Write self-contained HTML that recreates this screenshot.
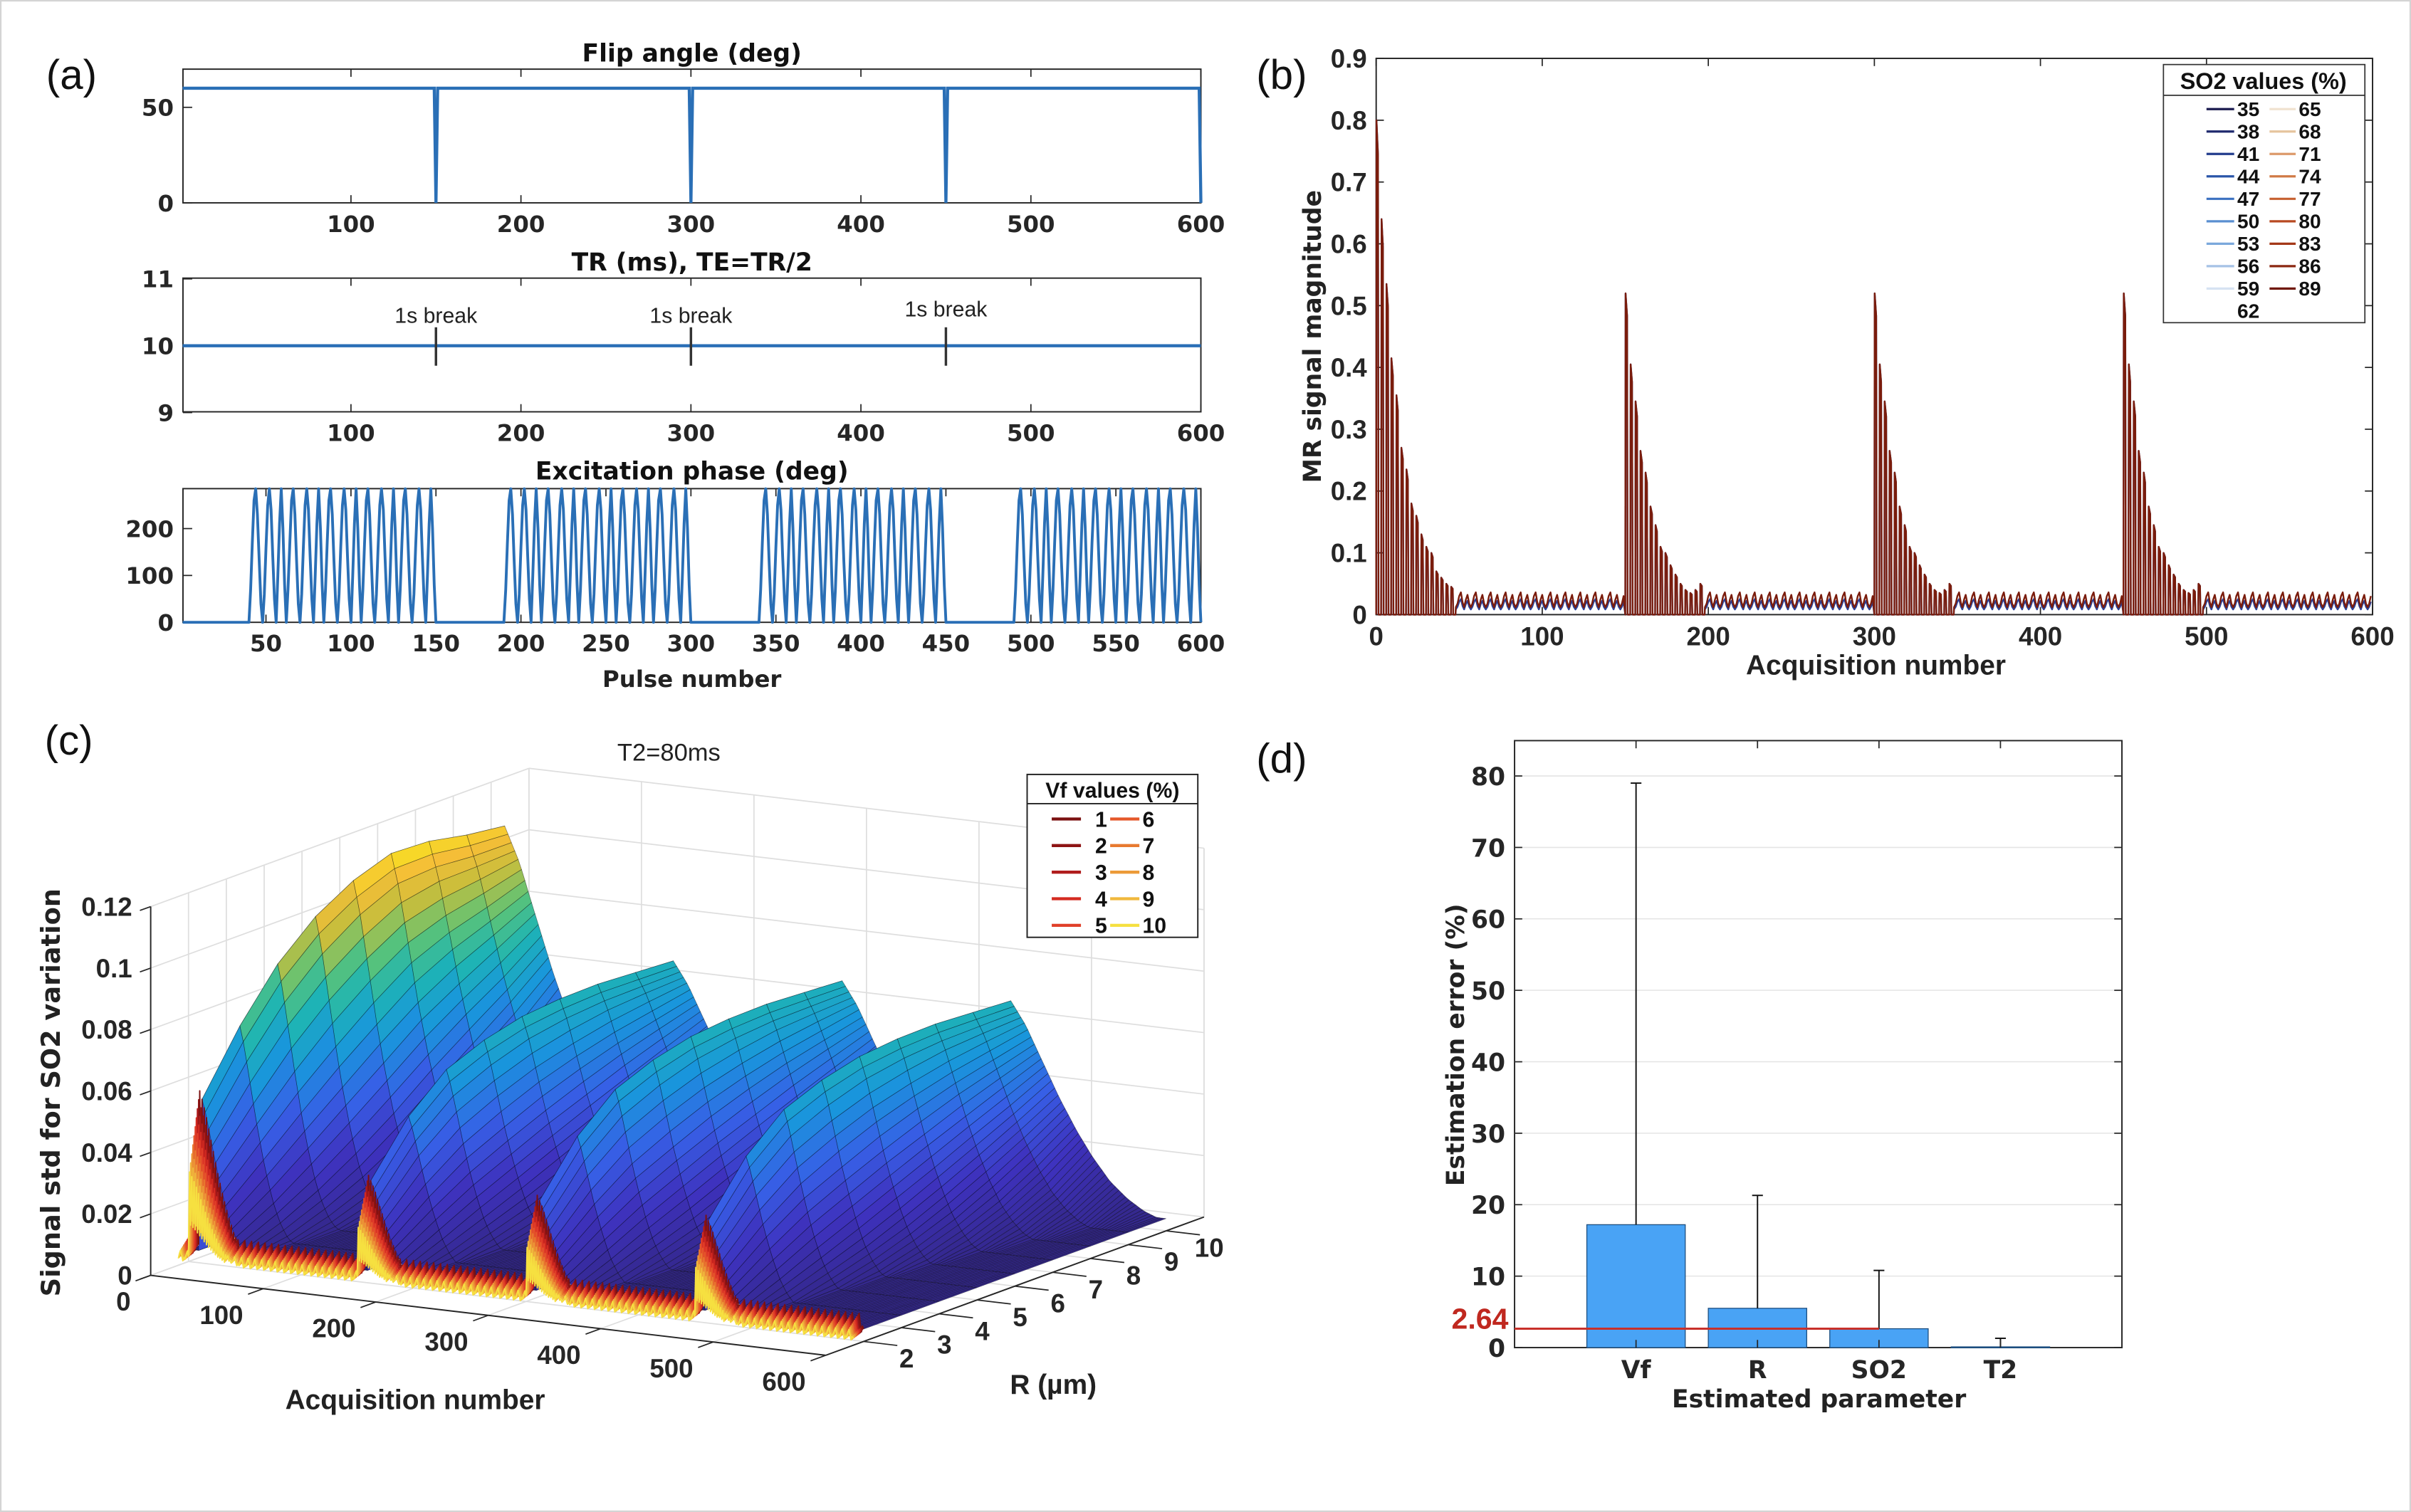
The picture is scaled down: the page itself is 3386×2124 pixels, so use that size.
<!DOCTYPE html>
<html><head><meta charset="utf-8"><title>MR fingerprinting figure</title>
<style>html,body{margin:0;padding:0;background:#fff}svg{display:block}</style></head>
<body>
<svg id="chart" xmlns="http://www.w3.org/2000/svg" width="3386" height="2124" viewBox="0 0 1568 984" preserveAspectRatio="none" font-family="DejaVu Sans, sans-serif">
<rect x="0.5" y="0.5" width="1567" height="983" fill="#fff" stroke="#d4d4d4"/>
<text x="30" y="58" font-family="Liberation Sans, sans-serif" font-size="27" fill="#111">(a)</text>
<text x="817" y="58" font-family="Liberation Sans, sans-serif" font-size="27" fill="#111">(b)</text>
<text x="29" y="491" font-family="Liberation Sans, sans-serif" font-size="27" fill="#111">(c)</text>
<text x="817" y="503" font-family="Liberation Sans, sans-serif" font-size="27" fill="#111">(d)</text>
</svg>
<script>
// ---------- data: panel (a) ----------
const flipAngleValue = 60;
const flipDipPulses = [150, 300, 450, 600];
const trValue = 10;
const breakPulses = [150, 300, 450];
const breakLabels = ['1s break', '1s break', '1s break'];
const phaseSegStarts = [40, 190, 340, 490];
const phaseSegLen = 110;
const phasePattern = [0, 70, 170, 260, 285, 230, 130, 40, 0, 60, 160, 250, 285, 240, 140, 50, 0, 100, 210, 285, 200, 80];
const pulseTicksTop = [100, 200, 300, 400, 500, 600];
const pulseTicksPhase = [50, 100, 150, 200, 250, 300, 350, 400, 450, 500, 550, 600];
const flipYTicks = [0, 50];
const trYTicks = [9, 10, 11];
const phaseYTicks = [0, 100, 200];
// ---------- data: panel (b) ----------
const bSegStarts = [0, 150, 300, 450];
const bPeaksFirst = [0.80, 0.64, 0.535, 0.415, 0.355, 0.27, 0.235, 0.18, 0.16, 0.13, 0.11, 0.10, 0.07, 0.06, 0.05, 0.045];
const bPeaksLater = [0.52, 0.405, 0.345, 0.265, 0.23, 0.175, 0.145, 0.11, 0.10, 0.08, 0.065, 0.05, 0.04, 0.035, 0.04, 0.05];
const bRipple = [0.012, 0.018, 0.03, 0.036, 0.02, 0.012, 0.024, 0.032, 0.018];
const bXTicks = [0, 100, 200, 300, 400, 500, 600];
const bYTicks = [0, 0.1, 0.2, 0.3, 0.4, 0.5, 0.6, 0.7, 0.8, 0.9];
const so2Col1 = ['35', '38', '41', '44', '47', '50', '53', '56', '59', '62'];
const so2Col2 = ['65', '68', '71', '74', '77', '80', '83', '86', '89'];
const so2Col1Colors = ['#1c1c50', '#1f2a6e', '#223c8c', '#2a55a8', '#3a70c0', '#5a8fd0', '#7ba8dc', '#a6c2e6', '#d6e2f2', '#ffffff'];
const so2Col2Colors = ['#f0e2d0', '#e6c49e', '#dc9a6a', '#d07a46', '#c66030', '#b84a22', '#a43818', '#8c2812', '#70180c'];
// ---------- data: panel (c) ----------
const cSegStarts = [10, 160, 310, 460];
const cRidge1Peak = [0.056, 0.076, 0.092, 0.103, 0.11, 0.114, 0.113, 0.11, 0.108];
const cRidgePeak = [0.035, 0.052, 0.063, 0.068, 0.071, 0.072, 0.072, 0.071, 0.07];
const cDecayProfile = [1, 0.88, 0.72, 0.56, 0.42, 0.3, 0.2, 0.13, 0.08, 0.05, 0.04];
const cBaseline = 0.004;
const cRipple = [0.004, 0.007, 0.009, 0.006, 0.003, 0.005];
const cAcqTicks = [0, 100, 200, 300, 400, 500, 600];
const cRTicks = [2, 3, 4, 5, 6, 7, 8, 9, 10];
const cZTicks = [0, 0.02, 0.04, 0.06, 0.08, 0.1, 0.12];
const cZTickLabels = ['0', '0.02', '0.04', '0.06', '0.08', '0.1', '0.12'];
const vfLabels = ['1', '2', '3', '4', '5', '6', '7', '8', '9', '10'];
const vfColors = ['#7a1010', '#8e1414', '#b01c1c', '#d42a20', '#e0402a', '#e4582a', '#e87a30', '#ec9a38', '#f0b83c', '#f6e040'];
// ---------- data: panel (d) ----------
const dCategories = ['Vf', 'R', 'SO2', 'T2'];
const dErrMean = [17.2, 5.5, 2.64, 0.1];
const dErrUpper = [79, 21.3, 10.8, 1.3];
const dRefValue = 2.64;
const dYTicks = [0, 10, 20, 30, 40, 50, 60, 70, 80];

const NS = 'http://www.w3.org/2000/svg';
const root = document.getElementById('chart');
function mk(tag, attrs, parent) {
  const e = document.createElementNS(NS, tag);
  for (const k in attrs) e.setAttribute(k, attrs[k]);
  (parent || root).appendChild(e);
  return e;
}
function grp(name) {
  const g = mk('g', {});
  
  
  return g;
}
function lab(g, x, y, s, attrs, name) {
  const t = mk('text', Object.assign({x: x, y: y}, attrs || {}), g);
  t.textContent = s;
  
  
  return t;
}
function ln(g, x1, y1, x2, y2, stroke, w, name) {
  const l = mk('line', {x1: x1, y1: y1, x2: x2, y2: y2, stroke: stroke, 'stroke-width': w}, g);
  
  
  return l;
}
function pth(g, d, attrs, name) {
  const p = mk('path', Object.assign({d: d}, attrs), g);
  
  
  return p;
}
const TICKF = {'font-weight': 'bold', 'font-size': 15, fill: '#262626'};

// ================= Panel (a) =================
const xa = v => 117.7 + v * 1.1055;
function axesA(g, y0, y1, yfn, yticks, xticks, name) {
  const box = mk('rect', {x: 119, y: y0, width: 662, height: y1 - y0, fill: '#fff', stroke: '#262626', 'stroke-width': 0.9}, g);
  
  
  xticks.forEach(v => {
    ln(g, xa(v), y1, xa(v), y1 - 5, '#262626', 0.8, name + '-x-tick');
    ln(g, xa(v), y0, xa(v), y0 + 5, '#262626', 0.8, name + '-x-tick');
    lab(g, xa(v), y1 + 19, String(v), Object.assign({'text-anchor': 'middle'}, TICKF), name + '-x-tick-label');
  });
  yticks.forEach(v => {
    ln(g, 119, yfn(v), 125, yfn(v), '#262626', 0.8, name + '-y-tick');
    lab(g, 113, yfn(v) + 5.5, String(v), Object.assign({'text-anchor': 'end'}, TICKF), name + '-y-tick-label');
  });
}
const gA1 = grp('flip-angle-plot');
const yf = v => 132 - v * 1.243;
axesA(gA1, 45, 132, yf, flipYTicks, pulseTicksTop, 'flip-angle');
lab(gA1, 450, 40, 'Flip angle (deg)', {'text-anchor': 'middle', 'font-weight': 'bold', 'font-size': 16, fill: '#111'}, 'flip-angle-title');
{
  let d = 'M' + xa(1) + ',' + yf(flipAngleValue);
  flipDipPulses.forEach(p => {
    d += ' L' + xa(p - 1) + ',' + yf(flipAngleValue) + ' L' + xa(p) + ',' + yf(0);
    if (p < 600) d += ' L' + xa(p + 1) + ',' + yf(flipAngleValue);
  });
  pth(gA1, d, {fill: 'none', stroke: '#2a6fb6', 'stroke-width': 2}, 'flip-angle-line');
}
const gA2 = grp('tr-plot');
const ytr = v => 225 - (v - 10) * 43.5;
axesA(gA2, 181, 268, ytr, trYTicks, pulseTicksTop, 'tr');
lab(gA2, 450, 176, 'TR (ms), TE=TR/2', {'text-anchor': 'middle', 'font-weight': 'bold', 'font-size': 16, fill: '#111'}, 'tr-title');
pth(gA2, 'M' + xa(1) + ',' + ytr(trValue) + ' L' + xa(600) + ',' + ytr(trValue), {fill: 'none', stroke: '#2a6fb6', 'stroke-width': 2}, 'tr-line');
breakPulses.forEach((p, i) => {
  ln(gA2, xa(p), 213, xa(p), 238, '#333', 1.6, 'break-marker');
  lab(gA2, xa(p), i === 2 ? 206 : 210, breakLabels[i], {'text-anchor': 'middle', 'font-family': 'Liberation Sans, sans-serif', 'font-size': 14, fill: '#222'}, 'break-label');
});
const gA3 = grp('excitation-phase-plot');
const yph = v => 405 - v * 0.305;
axesA(gA3, 318, 405, yph, phaseYTicks, pulseTicksPhase, 'phase');
lab(gA3, 450, 312, 'Excitation phase (deg)', {'text-anchor': 'middle', 'font-weight': 'bold', 'font-size': 16, fill: '#111'}, 'phase-title');
{
  let d = '';
  for (let p = 1; p <= 600; p++) {
    let v = 0;
    phaseSegStarts.forEach(s => { if (p >= s && p < s + phaseSegLen) v = phasePattern[(p - s) % phasePattern.length]; });
    d += (p === 1 ? 'M' : ' L') + xa(p).toFixed(1) + ',' + yph(v).toFixed(1);
  }
  pth(gA3, d, {fill: 'none', stroke: '#2a6fb6', 'stroke-width': 1.8, 'stroke-linejoin': 'round'}, 'phase-line');
}
lab(gA3, 450, 447, 'Pulse number', {'text-anchor': 'middle', 'font-weight': 'bold', 'font-size': 15, fill: '#222'}, 'pulse-number-axis-title');

// ================= Panel (b) =================
const gB = grp('signal-magnitude-plot');
const xb = v => 895 + v * 1.08;
const yb = v => 400 - v * 402.2;
{
  const box = mk('rect', {x: 895, y: 38, width: 648, height: 362, fill: '#fff', stroke: '#262626', 'stroke-width': 0.9}, gB);
  
  
  const F = {'font-family': 'Liberation Sans, sans-serif', 'font-weight': 'bold', 'font-size': 17, fill: '#262626'};
  bXTicks.forEach(v => {
    ln(gB, xb(v), 400, xb(v), 395, '#262626', 0.8, 'signal-x-tick');
    ln(gB, xb(v), 38, xb(v), 43, '#262626', 0.8, 'signal-x-tick');
    lab(gB, xb(v), 420, String(v), Object.assign({'text-anchor': 'middle'}, F), 'signal-x-tick-label');
  });
  bYTicks.forEach(v => {
    ln(gB, 895, yb(v), 900, yb(v), '#262626', 0.8, 'signal-y-tick');
    ln(gB, 1543, yb(v), 1538, yb(v), '#262626', 0.8, 'signal-y-tick');
    lab(gB, 889, yb(v) + 6, String(v), Object.assign({'text-anchor': 'end'}, F), 'signal-y-tick-label');
  });
  lab(gB, 1220, 439, 'Acquisition number', {'text-anchor': 'middle', 'font-family': 'Liberation Sans, sans-serif', 'font-weight': 'bold', 'font-size': 18, fill: '#222'}, 'acquisition-axis-title');
  lab(gB, 0, 0, 'MR signal magnitude', {'text-anchor': 'middle', 'font-weight': 'bold', 'font-size': 16, fill: '#222', transform: 'translate(859,219) rotate(-90)'}, 'signal-axis-title');
}
function seriesB(scale) {
  const pts = [];
  bSegStarts.forEach((s, si) => {
    const pk = si === 0 ? bPeaksFirst : bPeaksLater;
    pk.forEach((p, k) => {
      const a0 = s + 3 * k;
      pts.push([a0, 0], [a0 + 0.2, p], [a0 + 1.1, p * 0.93], [a0 + 1.4, 0], [a0 + 2.8, 0]);
    });
    for (let j = 0; s + 48 + j < Math.min(s + 150, 601); j++) pts.push([s + 48 + j, bRipple[j % bRipple.length] * scale]);
  });
  return pts;
}
[[0.7, '#2b3f94', 'signal-series-low-so2'], [1, '#7a1c0c', 'signal-series-high-so2']].forEach(cfg => {
  const pts = seriesB(cfg[0]);
  const d = pts.map((p, i) => (i ? 'L' : 'M') + xb(p[0]).toFixed(1) + ',' + yb(p[1]).toFixed(1)).join(' ');
  pth(gB, d, {fill: 'none', stroke: cfg[1], 'stroke-width': 1.1, 'stroke-linejoin': 'round'}, cfg[2]);
});
{
  const gL = grp('so2-legend');
  const r = mk('rect', {x: 1407, y: 42, width: 131, height: 168, fill: '#fff', stroke: '#333', 'stroke-width': 0.8}, gL);
  
  
  ln(gL, 1407, 62, 1538, 62, '#333', 0.8, 'so2-legend-separator');
  lab(gL, 1472, 58, 'SO2 values (%)', {'text-anchor': 'middle', 'font-family': 'Liberation Sans, sans-serif', 'font-weight': 'bold', 'font-size': 15, fill: '#111'}, 'so2-legend-title');
  const F = {'font-family': 'Liberation Sans, sans-serif', 'font-weight': 'bold', 'font-size': 13, fill: '#111'};
  so2Col1.forEach((s, i) => {
    const y = 71 + i * 14.6;
    if (i < so2Col1.length - 1) ln(gL, 1435, y, 1453, y, so2Col1Colors[i], 1.5, 'so2-legend-line');
    lab(gL, 1455, y + 4.5, s, F, 'so2-legend-label');
  });
  so2Col2.forEach((s, i) => {
    const y = 71 + i * 14.6;
    ln(gL, 1476, y, 1493, y, so2Col2Colors[i], 1.5, 'so2-legend-line');
    lab(gL, 1495, y + 4.5, s, F, 'so2-legend-label');
  });
}

// ================= Panel (c) =================
const gC = grp('signal-std-3d-plot');
const P = (a, r, z) => [98 + 0.7317 * a + 24.6 * (r - 1), 830 + 0.0867 * a - 9.0 * (r - 1) - 2000 * z];
const pt = q => q[0].toFixed(1) + ',' + q[1].toFixed(1);
const parulaStops = [[0, 50, 38, 130], [0.2, 62, 50, 190], [0.35, 55, 95, 230], [0.5, 25, 150, 220], [0.62, 30, 180, 180], [0.72, 90, 195, 120], [0.82, 200, 190, 60], [0.9, 245, 190, 55], [1, 249, 250, 20]];
function parula(t) {
  t = Math.max(0, Math.min(1, t));
  for (let i = 1; i < parulaStops.length; i++) {
    if (t <= parulaStops[i][0]) {
      const a = parulaStops[i - 1], b = parulaStops[i], f = (t - a[0]) / (b[0] - a[0]);
      return 'rgb(' + [1, 2, 3].map(k => Math.round(a[k] + (b[k] - a[k]) * f)).join(',') + ')';
    }
  }
  return 'rgb(249,250,20)';
}
function peakAt(ridge, r) {
  const arr = ridge === 0 ? cRidge1Peak : cRidgePeak;
  const f = r - 2;
  const i = Math.max(0, Math.min(Math.floor(f), arr.length - 2));
  const t = f - i;
  return arr[i] * (1 - t) + arr[i + 1] * t;
}
function decay(d) {
  const f = d / 15, n = cDecayProfile.length - 1;
  if (f >= n) return cDecayProfile[n];
  const i = Math.floor(f), t = f - i;
  return cDecayProfile[i] * (1 - t) + cDecayProfile[i + 1] * t;
}
function ridgeOf(a) {
  let ridge = -1;
  for (let k = 0; k < cSegStarts.length; k++) if (a >= cSegStarts[k]) ridge = k;
  return ridge;
}
function hAt(a, r) {
  const ridge = ridgeOf(a);
  if (ridge < 0) return cBaseline;
  const d = (a - cSegStarts[ridge]) * (1 + (10 - r) * 0.25);
  return Math.max(cBaseline, peakAt(ridge, r) * decay(d));
}
// walls & floor grid
{
  const gW = grp('3d-axes-grid');
  const wallFill = 'M' + pt(P(0, 1, 0)) + ' L' + pt(P(0, 11, 0)) + ' L' + pt(P(0, 11, 0.12)) + ' L' + pt(P(0, 1, 0.12)) + 'Z M' + pt(P(0, 11, 0)) + ' L' + pt(P(600, 11, 0)) + ' L' + pt(P(600, 11, 0.12)) + ' L' + pt(P(0, 11, 0.12)) + 'Z';
  pth(gW, wallFill, {fill: '#fff', stroke: 'none'}, '3d-walls');
  const G = '#dedede';
  cZTicks.forEach(z => {
    ln(gW, ...P(0, 1, z), ...P(0, 11, z), G, 0.8, 'left-wall-gridline');
    ln(gW, ...P(0, 11, z), ...P(600, 11, z), G, 0.8, 'back-wall-gridline');
  });
  cAcqTicks.forEach(a => {
    ln(gW, ...P(a, 11, 0), ...P(a, 11, 0.12), G, 0.8, 'back-wall-gridline');
    ln(gW, ...P(a, 1, 0), ...P(a, 11, 0), G, 0.8, 'floor-gridline');
  });
  cRTicks.forEach(r => {
    ln(gW, ...P(0, r, 0), ...P(0, r, 0.12), G, 0.8, 'left-wall-gridline');
    ln(gW, ...P(0, r, 0), ...P(600, r, 0), G, 0.8, 'floor-gridline');
  });
  ln(gW, ...P(0, 11, 0), ...P(0, 11, 0.12), G, 0.8, 'back-corner-line');
  ln(gW, ...P(600, 11, 0), ...P(600, 11, 0.12), G, 0.8, 'back-corner-line');
}
// surface
{
  const gS = grp('std-surface');
  const quads = [];
  const aStep = 3, rStep = 1;
  for (let r = 2; r < 10 - 1e-9; r += rStep) {
    for (let a = 0; a < 600; a += aStep) {
      const h00 = hAt(a, r), h10 = hAt(a + aStep, r), h11 = hAt(a + aStep, r + rStep), h01 = hAt(a, r + rStep);
      const depth = 0.0867 * (a + aStep / 2) - 9 * (r + rStep / 2 - 1);
      quads.push({depth: depth, d: 'M' + pt(P(a, r, h00)) + 'L' + pt(P(a + aStep, r, h10)) + 'L' + pt(P(a + aStep, r + rStep, h11)) + 'L' + pt(P(a, r + rStep, h01)) + 'Z', c: parula((h00 + h10 + h11 + h01) / 4 / 0.115)});
    }
  }
  quads.sort((p, q) => p.depth - q.depth);
  quads.forEach(q => {
    const e = mk('path', {d: q.d, fill: q.c, stroke: 'rgba(0,0,0,0.42)', 'stroke-width': 0.35}, gS);
    
    
  });
}
// Vf lines at front edge
{
  const gV = grp('vf-lines');
  vfColors.forEach((col, i) => {
    const sc = 1 - i * 0.05;
    let d = '';
    for (let a = 0; a <= 600; a++) {
      const ridge = ridgeOf(a);
      let v = cRipple[a % cRipple.length] * sc;
      if (ridge >= 0) {
        const dd = a - cSegStarts[ridge];
        if (dd < 45) v = Math.max(v, peakAt(ridge, 2) * decay(dd * 3) * (dd % 2 === 0 ? 1 : 0.45) * sc);
      }
      d += (a ? 'L' : 'M') + pt(P(a, 2 - i * 0.03, v));
    }
    pth(gV, d, {fill: 'none', stroke: col, 'stroke-width': 0.9, 'stroke-linejoin': 'round'}, 'vf-line-' + vfLabels[i]);
  });
}
// axes, ticks
{
  const gX = grp('3d-axes');
  ln(gX, ...P(0, 1, 0), ...P(0, 1, 0.12), '#262626', 0.9, 'z-axis-line');
  ln(gX, ...P(0, 1, 0), ...P(600, 1, 0), '#262626', 0.9, 'acquisition-axis-line');
  ln(gX, ...P(600, 1, 0), ...P(600, 11, 0), '#262626', 0.9, 'r-axis-line');
  const F = {'font-family': 'Liberation Sans, sans-serif', 'font-weight': 'bold', 'font-size': 17, fill: '#262626'};
  cZTicks.forEach((z, i) => {
    const q = P(0, 1, z);
    ln(gX, q[0], q[1], q[0] - 7, q[1] + 2.5, '#262626', 0.8, 'z-tick');
    lab(gX, q[0] - 12, q[1] + 6, cZTickLabels[i], Object.assign({'text-anchor': 'end'}, F), 'z-tick-label');
  });
  cAcqTicks.forEach(a => {
    const q = P(a, 1, 0), q2 = P(a, 0.6, 0);
    ln(gX, q[0], q[1], q2[0], q2[1], '#262626', 0.8, 'acquisition-tick');
    lab(gX, q[0] - 13, q[1] + 23, String(a), Object.assign({'text-anchor': 'end'}, F), 'acquisition-tick-label');
  });
  cRTicks.forEach(r => {
    const q = P(600, r, 0), q2 = P(630, r, 0);
    ln(gX, q[0], q[1], q2[0], q2[1], '#262626', 0.8, 'r-tick');
    lab(gX, q[0] + 28, q[1] + 17, String(r), Object.assign({'text-anchor': 'middle'}, F), 'r-tick-label');
  });
  lab(gX, 270, 917, 'Acquisition number', {'text-anchor': 'middle', 'font-family': 'Liberation Sans, sans-serif', 'font-weight': 'bold', 'font-size': 18, fill: '#222'}, 'acquisition-axis-title-3d');
  lab(gX, 685, 907, 'R (\u00b5m)', {'text-anchor': 'middle', 'font-family': 'Liberation Sans, sans-serif', 'font-weight': 'bold', 'font-size': 18, fill: '#222'}, 'r-axis-title');
  lab(gX, 0, 0, 'Signal std for SO2 variation', {'text-anchor': 'middle', 'font-weight': 'bold', 'font-size': 17, fill: '#222', transform: 'translate(39,711) rotate(-90)'}, 'std-axis-title');
  lab(gX, 435, 495, 'T2=80ms', {'text-anchor': 'middle', 'font-family': 'Liberation Sans, sans-serif', 'font-size': 16, fill: '#222'}, 'plot-c-title');
}
// Vf legend
{
  const gL = grp('vf-legend');
  const r = mk('rect', {x: 668, y: 504, width: 111, height: 106, fill: '#fff', stroke: '#222', 'stroke-width': 0.9}, gL);
  
  
  ln(gL, 668, 523, 779, 523, '#222', 0.9, 'vf-legend-separator');
  lab(gL, 723.5, 519, 'Vf values (%)', {'text-anchor': 'middle', 'font-family': 'Liberation Sans, sans-serif', 'font-weight': 'bold', 'font-size': 14, fill: '#111'}, 'vf-legend-title');
  const F = {'font-family': 'Liberation Sans, sans-serif', 'font-weight': 'bold', 'font-size': 14, fill: '#111'};
  vfLabels.forEach((s, i) => {
    const col = i < 5 ? 0 : 1, row = i % 5;
    const y = 533 + row * 17.3;
    const lx = col === 0 ? 684 : 722;
    ln(gL, lx, y, lx + 19, y, vfColors[i], 2, 'vf-legend-line');
    lab(gL, col === 0 ? 720 : 743, y + 5, s, Object.assign({'text-anchor': col === 0 ? 'end' : 'start'}, F), 'vf-legend-label');
  });
}

// ================= Panel (d) =================
const gD = grp('estimation-error-plot');
const yd = v => 877 - v * 4.65;
const xd = i => 985 + (i + 1) * 79;
{
  const box = mk('rect', {x: 985, y: 482, width: 395, height: 395, fill: '#fff', stroke: '#262626', 'stroke-width': 0.9}, gD);
  
  
  dYTicks.forEach(v => {
    if (v > 0) ln(gD, 985, yd(v), 1380, yd(v), '#e4e4e4', 0.7, 'error-gridline');
    ln(gD, 985, yd(v), 990, yd(v), '#262626', 0.8, 'error-y-tick');
    ln(gD, 1380, yd(v), 1375, yd(v), '#262626', 0.8, 'error-y-tick');
    lab(gD, 979, yd(v) + 6, String(v), Object.assign({'text-anchor': 'end'}, TICKF, {'font-size': 16}), 'error-y-tick-label');
  });
  dCategories.forEach((c, i) => {
    const x = xd(i);
    const b = mk('rect', {x: x - 32, y: yd(dErrMean[i]), width: 64, height: Math.max(0.6, 877 - yd(dErrMean[i])), fill: '#49a3f5', stroke: '#1d4f80', 'stroke-width': 0.6}, gD);
    
    
    ln(gD, x, yd(dErrMean[i]), x, yd(dErrUpper[i]), '#111', 0.9, 'error-bar-' + c.toLowerCase());
    ln(gD, x - 3.5, yd(dErrUpper[i]), x + 3.5, yd(dErrUpper[i]), '#111', 0.9, 'error-bar-cap');
    ln(gD, x, 877, x, 872, '#262626', 0.8, 'error-x-tick');
    ln(gD, x, 482, x, 487, '#262626', 0.8, 'error-x-tick');
    lab(gD, x, 897, c, Object.assign({'text-anchor': 'middle'}, TICKF, {'font-size': 16}), 'error-x-tick-label');
  });
  ln(gD, 985, yd(dRefValue), xd(2), yd(dRefValue), '#c8302a', 1.4, 'reference-line');
  lab(gD, 981, yd(dRefValue) + 0, String(dRefValue), {'text-anchor': 'end', 'font-family': 'Liberation Sans, sans-serif', 'font-weight': 'bold', 'font-size': 19, fill: '#c0281f'}, 'reference-value-label');
  lab(gD, 1183, 916, 'Estimated parameter', {'text-anchor': 'middle', 'font-weight': 'bold', 'font-size': 16, fill: '#222'}, 'estimated-parameter-axis-title');
  lab(gD, 0, 0, 'Estimation error (%)', {'text-anchor': 'middle', 'font-weight': 'bold', 'font-size': 16, fill: '#222', transform: 'translate(952,680) rotate(-90)'}, 'estimation-error-axis-title');
}
</script>
</body></html>
